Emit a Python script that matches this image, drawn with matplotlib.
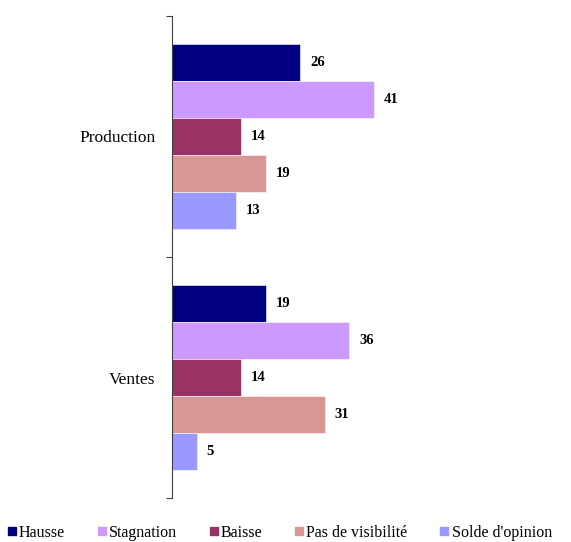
import numpy as np
import matplotlib
matplotlib.use("Agg")
import matplotlib.pyplot as plt
from matplotlib.lines import Line2D

plt.rcParams['font.family'] = 'serif'
plt.rcParams['font.serif'] = ['Liberation Serif', 'DejaVu Serif']

# data
groups = ['Production', 'Ventes']
series = ['Hausse', 'Stagnation', 'Baisse', 'Pas de visibilité', "Solde d'opinion"]
hausse = [26, 19]
stagnation = [41, 36]
baisse = [14, 14]
pas_visibilite = [19, 31]
solde = [13, 5]
values = [hausse, stagnation, baisse, pas_visibilite, solde]
colors = ['#000080', '#CC99FF', '#993366', '#DA9694', '#9999FF']

fig = plt.figure(figsize=(5.71, 5.42), dpi=100)
ax = fig.add_axes([172/571, 1 - 498/542, 390/571, 482/542])

h = 37/241
y = np.arange(len(groups))
for i, (vals, col) in enumerate(zip(values, colors)):
    pos = y + (i - 2) * h
    bars = ax.barh(pos, vals, height=h, color=col, edgecolor='white', linewidth=0.4)
    for b, v in zip(bars, vals):
        ax.text(b.get_width() + 2.0, b.get_y() + b.get_height()/2, str(v),
                va='center', ha='left', fontsize=10.5, fontweight='bold')

ax.set_ylim(1.5, -0.5)
ax.set_xlim(0, 390/4.93)
ax.set_yticks(y)
ax.set_yticklabels(groups, fontsize=12.5)
ax.tick_params(axis='y', which='major', length=0, pad=12)
ax.set_yticks([-0.5, 0.5, 1.5], minor=True)
ax.tick_params(axis='y', which='minor', length=4, width=0.8, color='#404040')
ax.set_xticks([])
for s in ['top', 'right', 'bottom']:
    ax.spines[s].set_visible(False)
ax.spines['left'].set_color('#404040')
ax.spines['left'].set_linewidth(0.8)

handles = [Line2D([], [], marker='s', linestyle='none', markersize=6,
                  markerfacecolor=c, markeredgecolor=c) for c in colors]
fig.legend(handles, series, loc='lower left', bbox_to_anchor=(0.012, 0.002),
           ncol=5, frameon=False, prop={'family': 'Liberation Serif', 'size': 11.5},
           handlelength=0.6, handletextpad=0.15, columnspacing=2.0,
           borderpad=0, borderaxespad=0)

fig.savefig('out.png', dpi=100)
